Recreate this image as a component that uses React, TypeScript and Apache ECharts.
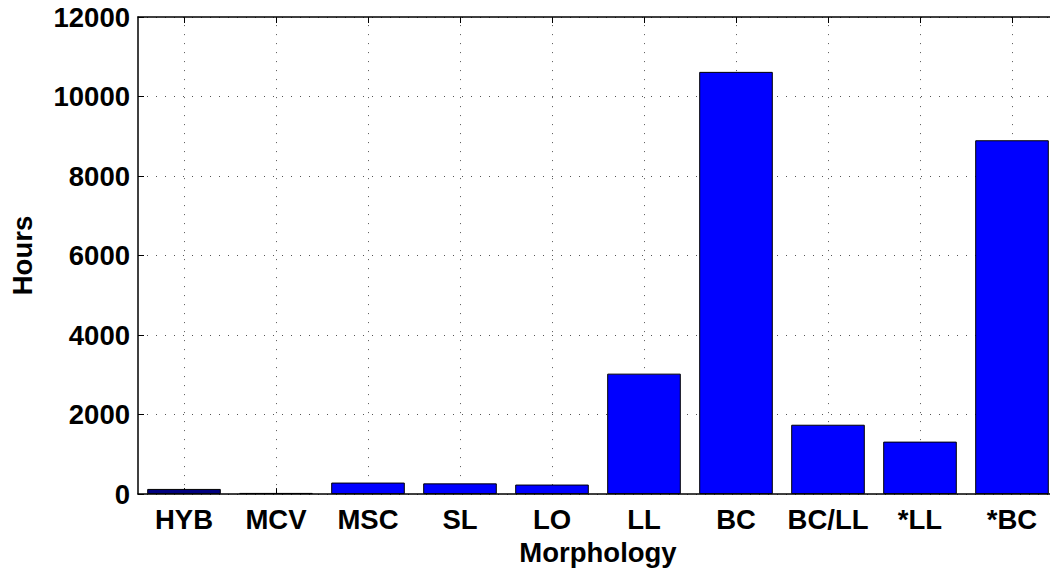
import React, { useEffect, useRef } from "react";
import * as echarts from "echarts";

const categories = ["HYB", "MCV", "MSC", "SL", "LO", "LL", "BC", "BC/LL", "*LL", "*BC"];
const hours = [130, 30, 290, 270, 240, 3030, 10620, 1745, 1320, 8900];
const yTicks = [0, 2000, 4000, 6000, 8000, 10000, 12000];

const FONT = "'Liberation Sans', Arial, Helvetica, sans-serif";

export default function App() {
  const ref = useRef<HTMLDivElement>(null);
  useEffect(() => {
    if (!ref.current) return;
    const chart = echarts.init(ref.current, undefined, { renderer: "svg" });
    const labelStyle = { color: "#000", fontWeight: "bold" as const, fontSize: 27.5, fontFamily: FONT };
    const gridLine = { color: "#555", type: [1, 8] as number[], width: 1 };
    chart.setOption({
      animation: false,
      backgroundColor: "#fff",
      grid: { left: 136, top: 17, width: 922, height: 479, containLabel: false },
      xAxis: [
        {
          type: "category",
          data: categories,
          position: "bottom",
          axisLine: { show: true, lineStyle: { color: "#000", width: 1.5 } },
          axisTick: { show: true, inside: true, alignWithLabel: true, length: 6, lineStyle: { color: "#000" } },
          axisLabel: { ...labelStyle, margin: 11, interval: 0 },
          splitLine: { show: false },
          name: "Morphology",
          nameLocation: "middle",
          nameGap: 41,
          nameTextStyle: { ...labelStyle },
        },
        {
          type: "category",
          data: categories,
          position: "top",
          axisLine: { show: true, lineStyle: { color: "#000", width: 1.5 } },
          axisTick: { show: true, inside: true, alignWithLabel: true, length: 6, lineStyle: { color: "#000" } },
          axisLabel: { show: false },
          splitLine: { show: false },
        },
      ],
      yAxis: {
        type: "value",
        min: 0,
        max: 12000,
        interval: 2000,
        axisLine: { show: true, lineStyle: { color: "#000", width: 1.5 } },
        axisTick: { show: true, inside: true, length: 6, lineStyle: { color: "#000" } },
        axisLabel: {
          ...labelStyle,
          margin: 8,
          formatter: (v: number) => (yTicks.includes(v) ? String(v) : ""),
        },
        splitLine: { show: true, lineStyle: gridLine },
        name: "Hours",
        nameLocation: "middle",
        nameGap: 102,
        nameRotate: 90,
        nameTextStyle: { ...labelStyle },
      },
      series: [
        {
          type: "bar",
          data: hours.map((v, i) => (i === 0 ? { value: v, itemStyle: { color: "#00007f" } } : v)),
          barWidth: "80%",
          itemStyle: { color: "#0000ff", borderColor: "#000", borderWidth: 1 },
          z: 3,
          markLine: {
            silent: true,
            symbol: ["none", "none"],
            label: { show: false },
            lineStyle: gridLine,
            z: 1,
            data: categories.map((c) => ({ xAxis: c })),
          },
        },
      ],
    });
    return () => chart.dispose();
  }, []);
  return (
    <div
      style={{ position: "absolute", left: 0, top: 0, width: 1050, height: 571, overflow: "hidden", background: "#fff" }}
    >
      <div ref={ref} style={{ width: 1090, height: 571 }} />
    </div>
  );
}
